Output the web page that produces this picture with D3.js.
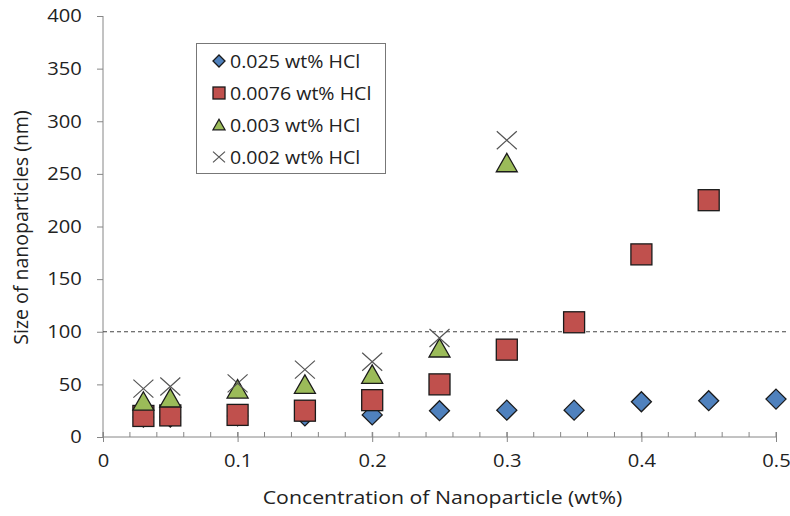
<!DOCTYPE html>
<meta charset="utf-8">
<html>
<head>
  <script src="https://d3js.org/d3.v7.min.js" charset="utf-8"></script>
</head>
<style>
body { margin: 0; background: white; }
text { font-family: "Open Sans", sans-serif; fill: #222; }
</style>
<body>
<div id="container"></div>
<script>

var width = 790
var height = 516
var margin = {left: 103, right: 14, top: 16, bottom: 79}

// concentrations of nanoparticle (wt%)
var concBlue = [0.03, 0.05, 0.1, 0.15, 0.2, 0.25, 0.3, 0.35, 0.4, 0.45, 0.5]
var sizeBlue = [19, 19, 20, 20, 21, 25, 25.5, 25.5, 33.5, 34.5, 36]
var concRed = [0.03, 0.05, 0.1, 0.15, 0.2, 0.25, 0.3, 0.35, 0.4, 0.45]
var sizeRed = [20, 20.5, 21, 25, 35, 50, 83, 109, 173.5, 225]
var concGreen = [0.03, 0.05, 0.1, 0.15, 0.2, 0.25, 0.3]
var sizeGreen = [33.5, 36.5, 45, 49.5, 59, 84, 260]
var concGrey = [0.03, 0.05, 0.1, 0.15, 0.2, 0.25, 0.3]
var sizeGrey = [46, 48, 51, 64, 71.5, 94, 282]

var seriesNames = ["0.025 wt% HCl", "0.0076 wt% HCl", "0.003 wt% HCl", "0.002 wt% HCl"]
var xTicks = [0, 0.1, 0.2, 0.3, 0.4, 0.5]
var yTicks = [0, 50, 100, 150, 200, 250, 300, 350, 400]
var threshold = 100

var axisColor = "#868686"
var font = "'Open Sans', sans-serif"
var stretch = 1.12   // the original text is a bit wide

const svg = d3.select("#container").append("svg")
  .attr("width", width).attr("height", height)

var x = d3.scaleLinear().domain([0, 0.5]).range([margin.left, width - margin.right])
var y = d3.scaleLinear().domain([0, 400]).range([height - margin.bottom, margin.top])

// y axis
var yAxis = svg.append("g")
  .attr("transform", "translate(" + margin.left + ",0)")
  .call(d3.axisLeft(y).tickValues(yTicks).tickSize(6).tickPadding(13))
yAxis.selectAll("line, path").attr("stroke", axisColor)
yAxis.select(".domain").attr("d", "M0," + y(400) + "V" + y(0))
yAxis.selectAll("text").attr("font-size", "18px").attr("font-family", font).attr("fill", "#222")
  .attr("transform", "scale(" + stretch + ",1)")

// x axis, minor ticks inside
var xMinor = d3.range(0, 0.5001, 0.02)
svg.append("g").selectAll("line")
  .data(xMinor)
  .enter().append("line")
  .attr("x1", d => x(d)).attr("x2", d => x(d))
  .attr("y1", y(0) - 5).attr("y2", y(0))
  .attr("stroke", axisColor)

var xAxis = svg.append("g")
  .attr("transform", "translate(0," + y(0) + ")")
  .call(d3.axisBottom(x).tickValues(xTicks).tickFormat(d => d === 0 ? "0" : d3.format(".1f")(d)).tickSize(5).tickPadding(12))
xAxis.selectAll("line, path").attr("stroke", axisColor)
xAxis.select(".domain").attr("d", "M" + x(0) + ",0H" + x(0.5))
xAxis.selectAll(".tick line").attr("y1", -5)
xAxis.selectAll("text").attr("font-size", "18px").attr("font-family", font).attr("fill", "#222")
  .attr("transform", "scale(" + stretch + ",1)")

// threshold line
svg.append("line")
  .attr("x1", x(0)).attr("x2", x(0.5) + 10)
  .attr("y1", y(threshold)).attr("y2", y(threshold))
  .attr("stroke", "#444").attr("stroke-width", 1)
  .attr("stroke-dasharray", "4,3")

// axis titles
svg.append("text")
  .attr("transform", "translate(" + ((x(0) + x(0.5)) / 2 + 3) + ",504) scale(" + stretch + ",1)")
  .attr("text-anchor", "middle").attr("font-size", "19px")
  .text("Concentration of Nanoparticle (wt%)")

svg.append("text")
  .attr("transform", "translate(28," + (y(200) + 1) + ") rotate(-90)")
  .attr("text-anchor", "middle").attr("font-size", "19.5px")
  .text("Size of nanoparticles (nm)")

function drawMarker(g, kind, s) {
  if (kind == "diamond") {
    g.append("path").attr("d", "M0," + (-s) + "L" + s + ",0L0," + s + "L" + (-s) + ",0Z")
      .attr("fill", "#4F81BD").attr("stroke", "#1a1a1a").attr("stroke-width", 1.3)
  } else if (kind == "square") {
    g.append("rect").attr("x", -s).attr("y", -s).attr("width", 2 * s).attr("height", 2 * s)
      .attr("fill", "#C0504D").attr("stroke", "#1a1a1a").attr("stroke-width", 1.3)
  } else if (kind == "triangle") {
    g.append("path").attr("d", "M0," + (-s * 0.95) + "L" + s + "," + (s * 0.8) + "L" + (-s) + "," + (s * 0.8) + "Z")
      .attr("fill", "#9BBB59").attr("stroke", "#1a1a1a").attr("stroke-width", 1.3)
  } else {
    g.append("path").attr("d", "M" + (-s) + "," + (-s * 0.9) + "L" + s + "," + (s * 0.9) + "M" + s + "," + (-s * 0.9) + "L" + (-s) + "," + (s * 0.9))
      .attr("fill", "none").attr("stroke", "#555").attr("stroke-width", 1.2)
  }
}

var series = [
  {kind: "diamond", xs: concBlue, ys: sizeBlue, size: 10},
  {kind: "square", xs: concRed, ys: sizeRed, size: 10.5},
  {kind: "triangle", xs: concGreen, ys: sizeGreen, size: 10.5},
  {kind: "cross", xs: concGrey, ys: sizeGrey, size: 10}
]

series.forEach(function(s) {
  svg.append("g").selectAll("g")
    .data(s.xs.map((c, i) => [c, s.ys[i]]))
    .enter().append("g")
    .attr("transform", d => "translate(" + x(d[0]) + "," + y(d[1]) + ")")
    .each(function() { drawMarker(d3.select(this), s.kind, s.size) })
})

// legend
var legend = svg.append("g")
legend.append("rect")
  .attr("x", 196.5).attr("y", 43.5).attr("width", 189).attr("height", 130)
  .attr("fill", "white").attr("stroke", "#777")

seriesNames.forEach(function(name, i) {
  var ly = 61 + i * 32
  var g = legend.append("g").attr("transform", "translate(219," + ly + ")")
  drawMarker(g, series[i].kind, 6)
  legend.append("text")
    .attr("transform", "translate(230," + ly + ") scale(" + stretch + ",1)")
    .attr("dominant-baseline", "central").attr("font-size", "17.5px")
    .text(name)
})

</script>
</body>
</html>
